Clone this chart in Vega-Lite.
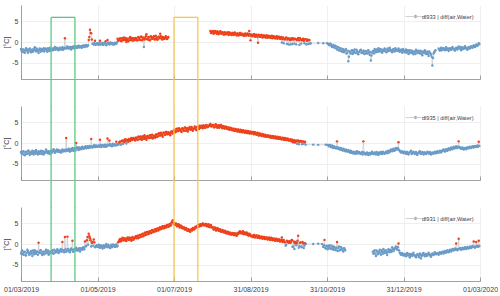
{
  "$schema": "https://vega.github.io/schema/vega-lite/v6.json",
  "padding": {"left": 2, "top": 5, "right": 0, "bottom": 2},
  "spacing": 27,
  "bounds": "flush",
  "datasets": {
    "boxes": [
      {"x0": "2019-03-25", "x1": "2019-04-13", "id": "g"},
      {"x0": "2019-07-01", "x1": "2019-07-20", "id": "y"}
    ],
    "obs": [
      {"t":"2019-03-01","a":-1.7,"b":-2.2,"c":-2.3},
      {"t":"2019-03-02","a":-2.4,"b":-2.7,"c":-1.6},
      {"t":"2019-03-03","a":-1.9,"b":-2.0,"c":-2.6},
      {"t":"2019-03-04","a":-2.6,"b":-3.0,"c":-1.9},
      {"t":"2019-03-05","a":-1.5,"b":-2.1,"c":-2.8},
      {"t":"2019-03-06","a":-2.2,"b":-2.6,"c":-1.4},
      {"t":"2019-03-07","a":-2.0,"b":-1.8,"c":-2.1},
      {"t":"2019-03-08","a":-1.6,"b":-2.9,"c":-2.5},
      {"t":"2019-03-09","a":-2.5,"b":-2.3,"c":-1.7},
      {"t":"2019-03-10","a":-1.8,"b":-1.9,"c":-2.9},
      {"t":"2019-03-11","a":-2.1,"b":-2.8,"c":-2.0},
      {"t":"2019-03-12","a":-1.3,"b":-2.2,"c":-1.5},
      {"t":"2019-03-13","a":-2.3,"b":-1.7,"c":-2.4},
      {"t":"2019-03-14","a":-1.9,"b":-2.5,"c":-1.8},
      {"t":"2019-03-15","a":-2.7,"b":-2.0,"c":0.3,"r":"c"},
      {"t":"2019-03-16","a":-1.6,"b":-2.6,"c":-2.2},
      {"t":"2019-03-17","a":-2.0,"b":-1.9,"c":-1.6},
      {"t":"2019-03-18","a":-2.2,"b":-2.4,"c":-2.7},
      {"t":"2019-03-19","a":-1.5,"b":-2.8,"c":-1.9},
      {"t":"2019-03-20","a":-1.9,"b":-2.1,"c":-2.3},
      {"t":"2019-03-21","a":-1.7,"b":-1.6,"c":-1.4},
      {"t":"2019-03-22","a":-2.4,"b":-2.3,"c":-2.0},
      {"t":"2019-03-23","a":-1.8,"b":-2.0,"c":-2.6},
      {"t":"2019-03-24","a":-1.4,"b":-2.7,"c":-1.8},
      {"t":"2019-03-25","a":-2.1,"b":-1.8,"c":-2.1},
      {"t":"2019-03-26","a":-1.6,"b":-2.2,"c":-1.5},
      {"t":"2019-03-27","a":-1.9,"b":-1.5,"c":-2.4},
      {"t":"2019-03-28","a":-1.2,"b":-2.4,"c":-1.7},
      {"t":"2019-03-29","a":-1.7,"b":-1.9,"c":-1.9},
      {"t":"2019-03-30","a":-1.5,"b":-2.1,"c":-1.3},
      {"t":"2019-03-31","a":-2.0,"b":-1.7,"c":-2.2},
      {"t":"2019-04-01","a":-1.4,"b":-1.9,"c":-1.8},
      {"t":"2019-04-02","a":-1.8,"b":-2.3,"c":-1.2},
      {"t":"2019-04-03","a":-1.3,"b":-1.6,"c":0.5,"r":"c"},
      {"t":"2019-04-04","a":-1.7,"b":-2.0,"c":-1.6},
      {"t":"2019-04-05","a":0.9,"b":-1.7,"c":1.7,"r":"ac"},
      {"t":"2019-04-06","a":-1.5,"b":1.2,"c":-1.9,"r":"b"},
      {"t":"2019-04-07","a":-1.1,"b":-1.8,"c":1.8,"r":"c"},
      {"t":"2019-04-08","a":-1.6,"b":-1.4,"c":-1.4},
      {"t":"2019-04-09","a":-1.2,"b":-2.1,"c":-2.0},
      {"t":"2019-04-10","a":-1.8,"b":-1.5,"c":-1.1},
      {"t":"2019-04-11","a":-1.3,"b":-1.2,"c":0.8,"r":"c"},
      {"t":"2019-04-12","a":-1.0,"b":-1.9,"c":-1.7},
      {"t":"2019-04-13","a":-1.5,"b":-1.3,"c":-1.3},
      {"t":"2019-04-14","a":-1.1,"b":0.0,"c":-0.9,"r":"b"},
      {"t":"2019-04-15","a":-1.4,"b":-1.0,"c":-1.6},
      {"t":"2019-04-16","a":-0.9,"b":-1.7,"c":-1.2},
      {"t":"2019-04-17","a":-1.3,"b":-1.2,"c":-1.8},
      {"t":"2019-04-18","a":-1.0,"b":-1.5,"c":-1.0},
      {"t":"2019-04-19","a":-1.2,"b":-0.9,"c":-1.4},
      {"t":"2019-04-20","a":-0.8,"b":-1.4,"c":-0.9},
      {"t":"2019-04-21","a":-1.1,"b":-1.0,"c":0.6,"r":"c"},
      {"t":"2019-04-22","a":-0.7,"b":-1.3,"c":-0.5},
      {"t":"2019-04-23","a":-1.0,"b":-0.8,"c":1.7,"r":"c"},
      {"t":"2019-04-24","a":0.5,"b":-1.2,"c":2.5,"r":"ac"},
      {"t":"2019-04-25","a":3.0,"b":-0.9,"c":1.4,"r":"ac"},
      {"t":"2019-04-26","a":2.1,"b":1.0,"c":-0.6,"r":"ab"},
      {"t":"2019-04-27","a":-0.4,"b":-1.1,"c":0.5,"r":"c"},
      {"t":"2019-04-28","a":-0.6,"b":-0.7,"c":1.1,"r":"c"},
      {"t":"2019-04-29","a":0.3,"b":-1.0,"c":-0.8,"r":"a"},
      {"t":"2019-04-30","a":-0.5,"b":-0.6,"c":-0.4},
      {"t":"2019-05-01","a":-0.3,"b":-0.9,"c":-0.7},
      {"t":"2019-05-02","a":-0.7,"b":-0.6,"c":-0.2},
      {"t":"2019-05-03","a":0.3,"b":0.8,"c":-0.9,"r":"ab"},
      {"t":"2019-05-04","a":-0.5,"b":-1.0,"c":-0.4},
      {"t":"2019-05-05","a":-0.2,"b":-0.5,"c":-1.1},
      {"t":"2019-05-06","a":-0.6,"b":-0.8,"c":-0.3},
      {"t":"2019-05-07","a":-0.3,"b":-0.4,"c":-0.6},
      {"t":"2019-05-08","a":-0.8,"b":-0.9,"c":0.0},
      {"t":"2019-05-09","a":0.5,"b":1.1,"c":-0.8,"r":"ab"},
      {"t":"2019-05-10","a":-0.4,"b":-0.6,"c":-0.5},
      {"t":"2019-05-11","a":-0.1,"b":-0.3,"c":-1.0},
      {"t":"2019-05-12","a":-0.5,"b":-0.7,"c":-0.2},
      {"t":"2019-05-13","a":-0.3,"b":-0.2,"c":-0.6},
      {"t":"2019-05-14","a":-0.6,"b":-0.6,"c":-0.3},
      {"t":"2019-05-15","a":-0.2,"b":-0.4,"c":-0.7},
      {"t":"2019-05-16","a":-0.4,"b":0.3,"c":-0.1,"r":"b"},
      {"t":"2019-05-17","a":0.8,"b":-0.5,"c":-0.5,"r":"a"},
      {"t":"2019-05-18","a":0.4,"b":-0.2,"c":0.6,"r":"ac"},
      {"t":"2019-05-19","a":0.9,"b":0.4,"c":1.2,"r":"abc"},
      {"t":"2019-05-20","a":0.2,"b":-0.3,"c":0.8,"r":"ac"},
      {"t":"2019-05-21","a":0.7,"b":0.6,"c":1.5,"r":"abc"},
      {"t":"2019-05-22","a":1.1,"b":0.2,"c":0.9,"r":"abc"},
      {"t":"2019-05-23","a":0.5,"b":0.9,"c":1.3,"r":"abc"},
      {"t":"2019-05-24","a":0.0,"b":-0.1,"c":0.7,"r":"ac"},
      {"t":"2019-05-25","a":0.8,"b":0.7,"c":1.6,"r":"abc"},
      {"t":"2019-05-26","a":0.4,"b":1.0,"c":1.0,"r":"abc"},
      {"t":"2019-05-27","a":1.2,"b":0.5,"c":1.4,"r":"abc"},
      {"t":"2019-05-28","a":0.6,"b":1.2,"c":0.8,"r":"abc"},
      {"t":"2019-05-29","a":0.3,"b":0.8,"c":1.7,"r":"abc"},
      {"t":"2019-05-30","a":0.9,"b":1.1,"c":1.2,"r":"abc"},
      {"t":"2019-05-31","a":0.6,"b":0.6,"c":1.5,"r":"abc"},
      {"t":"2019-06-01","a":0.8,"b":1.3,"c":1.4,"r":"abc"},
      {"t":"2019-06-02","a":0.4,"b":0.7,"c":2.0,"r":"abc"},
      {"t":"2019-06-03","a":1.0,"b":1.5,"c":1.6,"r":"abc"},
      {"t":"2019-06-04","a":0.5,"b":0.9,"c":2.2,"r":"abc"},
      {"t":"2019-06-05","a":1.3,"b":1.2,"c":1.8,"r":"abc"},
      {"t":"2019-06-06","a":0.7,"b":1.6,"c":2.5,"r":"abc"},
      {"t":"2019-06-07","a":-1.2,"b":1.0,"c":2.1,"r":"bc"},
      {"t":"2019-06-08","a":0.9,"b":1.4,"c":2.8,"r":"abc"},
      {"t":"2019-06-09","a":1.9,"b":0.8,"c":2.3,"r":"abc"},
      {"t":"2019-06-10","a":0.6,"b":1.7,"c":2.9,"r":"abc"},
      {"t":"2019-06-11","a":1.1,"b":1.2,"c":2.6,"r":"abc"},
      {"t":"2019-06-12","a":0.5,"b":1.9,"c":3.1,"r":"abc"},
      {"t":"2019-06-13","a":1.2,"b":1.4,"c":2.7,"r":"abc"},
      {"t":"2019-06-14","a":0.8,"b":1.1,"c":3.3,"r":"abc"},
      {"t":"2019-06-15","a":1.4,"b":1.8,"c":3.0,"r":"abc"},
      {"t":"2019-06-16","a":0.7,"b":1.3,"c":3.6,"r":"abc"},
      {"t":"2019-06-17","a":1.0,"b":2.1,"c":3.2,"r":"abc"},
      {"t":"2019-06-18","a":0.6,"b":1.6,"c":3.8,"r":"abc"},
      {"t":"2019-06-19","a":1.3,"b":2.4,"c":3.5,"r":"abc"},
      {"t":"2019-06-20","a":2.0,"b":1.8,"c":4.0,"r":"abc"},
      {"t":"2019-06-21","a":0.9,"b":2.2,"c":3.7,"r":"abc"},
      {"t":"2019-06-22","a":1.2,"b":1.5,"c":4.3,"r":"abc"},
      {"t":"2019-06-23","a":0.7,"b":2.5,"c":3.9,"r":"abc"},
      {"t":"2019-06-24","a":1.1,"b":2.0,"c":4.4,"r":"abc"},
      {"t":"2019-06-25","a":0.8,"b":2.7,"c":4.1,"r":"abc"},
      {"t":"2019-06-26","a":1.0,"b":2.1,"c":4.6,"r":"abc"},
      {"t":"2019-06-27","a":null,"b":2.4,"c":4.3,"r":"bc","gap":"a"},
      {"t":"2019-06-28","b":1.9,"c":4.8,"r":"bc"},
      {"t":"2019-06-29","b":2.8,"c":5.2,"r":"bc"},
      {"t":"2019-06-30","b":2.3,"c":5.8,"r":"bc"},
      {"t":"2019-07-01","b":3.0,"c":5.1,"r":"bc"},
      {"t":"2019-07-02","b":2.6,"c":4.7,"r":"bc"},
      {"t":"2019-07-03","b":3.4,"c":4.9,"r":"bc"},
      {"t":"2019-07-04","b":2.9,"c":4.4,"r":"bc"},
      {"t":"2019-07-05","b":3.6,"c":4.6,"r":"bc"},
      {"t":"2019-07-06","b":3.1,"c":4.1,"r":"bc"},
      {"t":"2019-07-07","b":2.7,"c":4.3,"r":"bc"},
      {"t":"2019-07-08","b":3.5,"c":3.8,"r":"bc"},
      {"t":"2019-07-09","b":3.0,"c":4.0,"r":"bc"},
      {"t":"2019-07-10","b":3.8,"c":3.5,"r":"bc"},
      {"t":"2019-07-11","b":3.2,"c":3.7,"r":"bc"},
      {"t":"2019-07-12","b":2.8,"c":3.2,"r":"bc"},
      {"t":"2019-07-13","b":3.6,"c":3.4,"r":"bc"},
      {"t":"2019-07-14","b":3.3,"c":3.0,"r":"bc"},
      {"t":"2019-07-15","b":3.9,"c":3.6,"r":"bc"},
      {"t":"2019-07-16","b":3.0,"c":3.9,"r":"bc"},
      {"t":"2019-07-17","b":3.5,"c":3.5,"r":"bc"},
      {"t":"2019-07-18","b":3.7,"c":4.2,"r":"bc"},
      {"t":"2019-07-19","b":3.1,"c":4.0,"r":"bc"},
      {"t":"2019-07-20","b":4.0,"c":4.6,"r":"bc"},
      {"t":"2019-07-21","b":3.4,"c":4.3,"r":"bc"},
      {"t":"2019-07-22","b":3.8,"c":4.8,"r":"bc"},
      {"t":"2019-07-23","b":4.2,"c":4.5,"r":"bc"},
      {"t":"2019-07-24","b":3.6,"c":5.0,"r":"bc"},
      {"t":"2019-07-25","b":4.1,"c":4.6,"r":"bc"},
      {"t":"2019-07-26","b":3.7,"c":4.9,"r":"bc"},
      {"t":"2019-07-27","b":4.4,"c":4.4,"r":"bc"},
      {"t":"2019-07-28","b":3.9,"c":4.7,"r":"bc"},
      {"t":"2019-07-29","b":4.2,"c":4.2,"r":"bc"},
      {"t":"2019-07-30","a":2.7,"b":4.6,"c":4.5,"r":"abc"},
      {"t":"2019-07-31","a":2.3,"b":4.0,"c":4.0,"r":"abc"},
      {"t":"2019-08-01","a":2.6,"b":4.3,"c":4.1,"r":"abc"},
      {"t":"2019-08-02","a":2.2,"b":3.8,"c":3.6,"r":"abc"},
      {"t":"2019-08-03","a":2.5,"b":4.5,"c":3.9,"r":"abc"},
      {"t":"2019-08-04","a":2.0,"b":4.0,"c":3.4,"r":"abc"},
      {"t":"2019-08-05","a":2.4,"b":4.2,"c":3.7,"r":"abc"},
      {"t":"2019-08-06","a":2.1,"b":3.7,"c":3.2,"r":"abc"},
      {"t":"2019-08-07","a":2.6,"b":4.4,"c":3.5,"r":"abc"},
      {"t":"2019-08-08","a":2.0,"b":3.9,"c":3.0,"r":"abc"},
      {"t":"2019-08-09","a":2.3,"b":4.1,"c":3.3,"r":"abc"},
      {"t":"2019-08-10","a":1.8,"b":3.6,"c":2.8,"r":"abc"},
      {"t":"2019-08-11","a":2.2,"b":4.0,"c":3.1,"r":"abc"},
      {"t":"2019-08-12","a":2.0,"b":3.5,"c":2.6,"r":"abc"},
      {"t":"2019-08-13","a":2.4,"b":3.8,"c":2.9,"r":"abc"},
      {"t":"2019-08-14","a":1.9,"b":3.3,"c":2.4,"r":"abc"},
      {"t":"2019-08-15","a":2.1,"b":3.7,"c":2.7,"r":"abc"},
      {"t":"2019-08-16","a":1.7,"b":3.2,"c":2.3,"r":"abc"},
      {"t":"2019-08-17","a":2.2,"b":3.5,"c":2.6,"r":"abc"},
      {"t":"2019-08-18","a":1.9,"b":3.0,"c":2.2,"r":"abc"},
      {"t":"2019-08-19","a":2.1,"b":3.4,"c":2.5,"r":"abc"},
      {"t":"2019-08-20","a":1.6,"b":2.9,"c":2.0,"r":"abc"},
      {"t":"2019-08-21","a":2.0,"b":3.3,"c":2.4,"r":"abc"},
      {"t":"2019-08-22","a":1.8,"b":2.8,"c":2.7,"r":"abc"},
      {"t":"2019-08-23","a":2.2,"b":3.2,"c":3.0,"r":"abc"},
      {"t":"2019-08-24","a":1.7,"b":2.7,"c":2.6,"r":"abc"},
      {"t":"2019-08-25","a":1.9,"b":3.1,"c":3.1,"r":"abc"},
      {"t":"2019-08-26","a":1.5,"b":2.6,"c":2.7,"r":"abc"},
      {"t":"2019-08-27","a":2.0,"b":3.0,"c":2.4,"r":"abc"},
      {"t":"2019-08-28","a":1.7,"b":2.5,"c":2.8,"r":"abc"},
      {"t":"2019-08-29","a":1.9,"b":2.9,"c":2.2,"r":"abc"},
      {"t":"2019-08-30","a":2.7,"b":2.4,"c":2.5,"r":"abc"},
      {"t":"2019-08-31","a":0.4,"b":2.8,"c":2.1,"r":"abc"},
      {"t":"2019-09-01","a":1.8,"b":2.3,"c":2.0,"r":"abc"},
      {"t":"2019-09-02","a":1.5,"b":2.7,"c":1.7,"r":"abc"},
      {"t":"2019-09-03","a":1.9,"b":2.1,"c":2.2,"r":"abc"},
      {"t":"2019-09-04","a":1.4,"b":2.5,"c":1.8,"r":"abc"},
      {"t":"2019-09-05","a":1.7,"b":2.0,"c":2.1,"r":"abc"},
      {"t":"2019-09-06","a":-0.2,"b":2.4,"c":1.6,"r":"abc"},
      {"t":"2019-09-07","a":1.6,"b":1.9,"c":1.9,"r":"abc"},
      {"t":"2019-09-08","a":1.3,"b":2.2,"c":1.5,"r":"abc"},
      {"t":"2019-09-09","a":1.7,"b":1.7,"c":1.8,"r":"abc"},
      {"t":"2019-09-10","a":1.2,"b":2.1,"c":1.4,"r":"abc"},
      {"t":"2019-09-11","a":1.5,"b":1.6,"c":1.7,"r":"abc"},
      {"t":"2019-09-12","a":1.1,"b":1.9,"c":1.3,"r":"abc"},
      {"t":"2019-09-13","a":1.6,"b":1.5,"c":1.6,"r":"abc"},
      {"t":"2019-09-14","a":1.2,"b":1.8,"c":1.2,"r":"abc"},
      {"t":"2019-09-15","a":1.4,"b":1.4,"c":1.5,"r":"abc"},
      {"t":"2019-09-16","a":1.0,"b":1.7,"c":1.1,"r":"abc"},
      {"t":"2019-09-17","a":1.5,"b":1.3,"c":1.4,"r":"abc"},
      {"t":"2019-09-18","a":1.1,"b":1.6,"c":1.0,"r":"abc"},
      {"t":"2019-09-19","a":1.3,"b":1.2,"c":1.3,"r":"abc"},
      {"t":"2019-09-20","a":0.9,"b":1.5,"c":0.9,"r":"abc"},
      {"t":"2019-09-21","a":1.4,"b":1.1,"c":1.2,"r":"abc"},
      {"t":"2019-09-22","a":1.0,"b":1.4,"c":0.8,"r":"abc"},
      {"t":"2019-09-23","a":1.2,"b":1.0,"c":1.1,"r":"abc"},
      {"t":"2019-09-24","a":0.8,"b":1.3,"c":0.7,"r":"abc"},
      {"t":"2019-09-25","a":-0.1,"b":0.9,"c":1.6,"r":"bc"},
      {"t":"2019-09-26","a":1.1,"b":1.2,"c":0.9,"r":"abc"},
      {"t":"2019-09-27","a":0.7,"b":0.8,"c":0.5,"r":"abc"},
      {"t":"2019-09-28","a":1.0,"b":1.1,"c":-0.4,"r":"ab"},
      {"t":"2019-09-29","a":-0.5,"b":0.7,"c":0.8,"r":"bc"},
      {"t":"2019-09-30","a":0.9,"b":1.0,"c":0.4,"r":"abc"},
      {"t":"2019-10-01","a":0.8,"b":0.6,"c":0.7,"r":"abc"},
      {"t":"2019-10-02","a":-0.6,"b":0.9,"c":0.3,"r":"bc"},
      {"t":"2019-10-03","a":0.6,"b":0.5,"c":1.0,"r":"abc"},
      {"t":"2019-10-04","a":0.9,"b":0.2,"c":-0.6,"r":"ab"},
      {"t":"2019-10-05","a":-0.4,"b":0.7,"c":-1.2,"r":"b"},
      {"t":"2019-10-06","a":0.7,"b":0.4,"c":0.5,"r":"abc"},
      {"t":"2019-10-07","a":0.5,"b":-0.2,"c":0.2,"r":"ac"},
      {"t":"2019-10-08","a":1.0,"b":0.6,"c":2.0,"r":"abc"},
      {"t":"2019-10-09","a":-0.7,"b":0.3,"c":-0.5,"r":"b"},
      {"t":"2019-10-10","a":0.6,"b":0.5,"c":0.4,"r":"abc"},
      {"t":"2019-10-11","a":0.4,"b":-0.3,"c":-0.8,"r":"a"},
      {"t":"2019-10-12","a":0.8,"b":0.4,"c":0.1,"r":"abc"},
      {"t":"2019-10-13","a":-0.3,"b":0.2,"c":-0.4,"r":"b"},
      {"t":"2019-10-14","a":0.7,"b":-0.4,"c":0.0,"r":"a"},
      {"t":"2019-10-15","a":0.3,"r":"a"},
      {"t":"2019-10-16","a":-0.5},
      {"t":"2019-10-17","a":0.5,"r":"a"},
      {"t":"2019-10-18","a":-0.3},
      {"t":"2019-10-20","b":-0.4,"c":0.0},
      {"t":"2019-10-24","a":-0.25,"b":-0.45,"c":0.05},
      {"t":"2019-10-27","c":0.0},
      {"t":"2019-10-28","a":-0.3,"c":-0.7},
      {"t":"2019-10-29","c":1.0,"r":"c"},
      {"t":"2019-10-30","b":-0.4,"c":-1.1},
      {"t":"2019-10-31","a":-0.3,"b":-0.45,"c":-0.5},
      {"t":"2019-11-01","a":-0.4,"b":-0.5,"c":-0.9},
      {"t":"2019-11-02","a":-0.8,"b":-0.7,"c":-0.3},
      {"t":"2019-11-03","a":-0.5,"b":-1.0,"c":-1.2},
      {"t":"2019-11-04","a":-1.2,"b":-0.6,"c":-0.6},
      {"t":"2019-11-05","a":-0.7,"b":-1.2,"c":-1.4},
      {"t":"2019-11-06","a":-1.4,"b":-0.9,"c":-0.8},
      {"t":"2019-11-07","a":-1.0,"b":-1.3,"c":-1.5},
      {"t":"2019-11-08","a":-1.8,"b":0.4,"c":0.5,"r":"bc"},
      {"t":"2019-11-09","a":-1.3,"b":-1.1,"c":-1.0},
      {"t":"2019-11-10","a":-2.1,"b":-1.5,"c":-1.6},
      {"t":"2019-11-11","a":-1.6,"b":-1.2,"c":-0.7},
      {"t":"2019-11-12","a":-2.4,"b":-1.7,"c":-1.3},
      {"t":"2019-11-13","a":-1.9,"b":-1.4,"c":-1.8},
      {"t":"2019-11-14","a":-2.2,"b":-1.9,"c":-1.1},
      {"t":"2019-11-15","a":-1.7,"b":-1.6,"c":null,"gap":"c"},
      {"t":"2019-11-16","a":-2.6,"b":-2.0},
      {"t":"2019-11-17","a":-4.7,"b":-1.7},
      {"t":"2019-11-18","a":-2.3,"b":-2.2},
      {"t":"2019-11-19","a":-2.8,"b":-1.9},
      {"t":"2019-11-20","a":-2.0,"b":-2.4},
      {"t":"2019-11-21","a":-2.5,"b":-2.1},
      {"t":"2019-11-22","a":-1.8,"b":-2.6},
      {"t":"2019-11-23","a":-2.7,"b":-2.2},
      {"t":"2019-11-24","a":-2.2,"b":-2.0},
      {"t":"2019-11-25","a":-3.0,"b":-2.5},
      {"t":"2019-11-26","a":-2.4,"b":-2.3},
      {"t":"2019-11-27","a":-1.9,"b":-2.7},
      {"t":"2019-11-28","a":-2.6,"b":-2.2},
      {"t":"2019-11-29","a":-2.1,"b":0.4,"r":"b"},
      {"t":"2019-11-30","a":-2.9,"b":-2.5},
      {"t":"2019-12-01","a":-2.3,"b":-2.8},
      {"t":"2019-12-02","a":-2.8,"b":-2.3},
      {"t":"2019-12-03","a":-2.0,"b":-2.9},
      {"t":"2019-12-04","a":-3.1,"b":-2.4},
      {"t":"2019-12-05","a":-4.5,"b":-2.6},
      {"t":"2019-12-06","a":-2.6,"b":-2.1},
      {"t":"2019-12-07","a":-2.2,"b":-2.7,"c":-2.4},
      {"t":"2019-12-08","a":-1.7,"b":-2.3,"c":-1.5},
      {"t":"2019-12-09","a":-2.5,"b":-2.8,"c":-2.9},
      {"t":"2019-12-10","a":-2.0,"b":-2.4,"c":-1.8},
      {"t":"2019-12-11","a":-1.5,"b":-2.9,"c":-2.3},
      {"t":"2019-12-12","a":-2.3,"b":-2.5,"c":-1.4},
      {"t":"2019-12-13","a":-1.8,"b":-2.2,"c":-2.6},
      {"t":"2019-12-14","a":-2.6,"b":-2.7,"c":-1.9},
      {"t":"2019-12-15","a":-2.1,"b":-2.3,"c":-1.2},
      {"t":"2019-12-16","a":-1.6,"b":-2.6,"c":-2.2},
      {"t":"2019-12-17","a":-2.4,"b":-2.1,"c":-1.6},
      {"t":"2019-12-18","a":-1.9,"b":-2.5,"c":-2.7},
      {"t":"2019-12-19","a":-2.2,"b":-1.9,"c":-1.3},
      {"t":"2019-12-20","a":-1.4,"b":-2.2,"c":-2.0},
      {"t":"2019-12-21","a":-2.0,"b":-1.6,"c":-1.5},
      {"t":"2019-12-22","a":-2.5,"b":-2.0,"c":-0.8},
      {"t":"2019-12-23","a":-1.7,"b":-1.4,"c":-1.7},
      {"t":"2019-12-24","a":-2.3,"b":-1.8,"c":-1.1},
      {"t":"2019-12-25","a":-1.8,"b":-1.2,"c":-0.6},
      {"t":"2019-12-26","a":-2.1,"b":-1.5,"c":-1.4},
      {"t":"2019-12-27","a":-1.6,"b":0.2,"c":0.1,"r":"bc"},
      {"t":"2019-12-28","a":-2.4,"b":-1.9,"c":-2.1},
      {"t":"2019-12-29","a":-1.9,"b":-2.3,"c":-2.6},
      {"t":"2019-12-30","a":-2.6,"b":-2.0,"c":-2.3},
      {"t":"2019-12-31","a":-2.0,"b":-2.5,"c":-2.8},
      {"t":"2020-01-01","a":-2.5,"b":-2.1,"c":-2.5},
      {"t":"2020-01-02","a":-1.8,"b":-2.6,"c":-3.0},
      {"t":"2020-01-03","a":-2.3,"b":-2.2,"c":-2.2},
      {"t":"2020-01-04","a":-2.9,"b":-2.8,"c":-2.8},
      {"t":"2020-01-05","a":-2.0,"b":-2.3,"c":-3.3},
      {"t":"2020-01-06","a":-2.6,"b":-1.9,"c":-2.4},
      {"t":"2020-01-07","a":-2.2,"b":-2.5,"c":-2.9},
      {"t":"2020-01-08","a":-3.0,"b":-2.1,"c":-2.1},
      {"t":"2020-01-09","a":-2.4,"b":-2.7,"c":-2.7},
      {"t":"2020-01-10","a":-1.9,"b":-2.2,"c":-3.2},
      {"t":"2020-01-11","a":-2.7,"b":-2.9,"c":-2.5},
      {"t":"2020-01-12","a":-2.1,"b":-2.4,"c":-2.9},
      {"t":"2020-01-13","a":-2.8,"b":-2.0,"c":-2.3},
      {"t":"2020-01-14","a":-2.3,"b":-2.6,"c":-3.5},
      {"t":"2020-01-15","a":-3.2,"b":-2.2,"c":-2.6},
      {"t":"2020-01-16","a":-2.5,"b":-2.8,"c":-2.2},
      {"t":"2020-01-17","a":-2.0,"b":-2.3,"c":-3.0},
      {"t":"2020-01-18","a":-2.9,"b":-2.7,"c":-2.4},
      {"t":"2020-01-19","a":-2.3,"b":-2.1,"c":-2.8},
      {"t":"2020-01-20","a":-3.4,"b":-2.5,"c":-2.1},
      {"t":"2020-01-21","a":-2.6,"b":-2.2,"c":-2.6},
      {"t":"2020-01-22","a":-3.1,"b":-2.8,"c":-3.1},
      {"t":"2020-01-23","a":-5.7,"b":-2.3,"c":-2.3},
      {"t":"2020-01-24","a":-2.8,"b":-2.6,"c":-2.7},
      {"t":"2020-01-25","a":-2.2,"b":-2.1,"c":-2.0},
      {"t":"2020-01-26","a":null,"b":-2.5,"c":-2.5,"gap":"a"},
      {"t":"2020-01-27","b":-2.0,"c":-2.2},
      {"t":"2020-01-28","a":-1.6,"b":-2.4,"c":-2.6},
      {"t":"2020-01-29","a":-2.1,"b":-1.9,"c":-2.0},
      {"t":"2020-01-30","a":-1.4,"b":-2.3,"c":-2.4},
      {"t":"2020-01-31","a":-1.9,"b":-1.8,"c":-1.9},
      {"t":"2020-02-01","a":-1.5,"b":-1.6,"c":-2.3},
      {"t":"2020-02-02","a":-2.0,"b":-2.1,"c":-1.7},
      {"t":"2020-02-03","a":-1.3,"b":-1.5,"c":-2.1},
      {"t":"2020-02-04","a":-1.8,"b":-1.9,"c":-1.5},
      {"t":"2020-02-05","a":-2.2,"b":-1.3,"c":-2.0},
      {"t":"2020-02-06","a":-1.5,"b":-1.7,"c":-1.4},
      {"t":"2020-02-07","a":-1.9,"b":-1.1,"c":-1.8},
      {"t":"2020-02-08","a":-1.2,"b":-1.5,"c":-1.2},
      {"t":"2020-02-09","a":-1.7,"b":-0.9,"c":-1.6},
      {"t":"2020-02-10","a":-2.1,"b":-1.3,"c":-1.1},
      {"t":"2020-02-11","a":-1.4,"b":-0.8,"c":0.1,"r":"c"},
      {"t":"2020-02-12","a":-1.8,"b":-1.2,"c":-1.5},
      {"t":"2020-02-13","a":-1.1,"b":0.4,"c":1.3,"r":"bc"},
      {"t":"2020-02-14","a":-1.6,"b":-1.0,"c":-1.0},
      {"t":"2020-02-15","a":-2.0,"b":-1.4,"c":-1.4},
      {"t":"2020-02-16","a":-1.3,"b":-1.1,"c":-0.9},
      {"t":"2020-02-17","a":-1.7,"b":-1.6,"c":-1.3},
      {"t":"2020-02-18","a":-1.0,"b":-1.2,"c":-0.8},
      {"t":"2020-02-19","a":-1.5,"b":-1.5,"c":-1.2},
      {"t":"2020-02-20","a":-1.9,"b":-1.0,"c":-0.7},
      {"t":"2020-02-21","a":-1.2,"b":-1.3,"c":-1.1},
      {"t":"2020-02-22","a":-1.6,"b":-0.9,"c":-0.6},
      {"t":"2020-02-23","a":-1.0,"b":-1.2,"c":-1.0},
      {"t":"2020-02-24","a":-1.4,"b":-0.8,"c":-0.5},
      {"t":"2020-02-25","a":-0.8,"b":-1.1,"c":0.6,"r":"c"},
      {"t":"2020-02-26","a":-1.2,"b":-0.7,"c":-0.9},
      {"t":"2020-02-27","a":-0.6,"b":-1.0,"c":0.5,"r":"c"},
      {"t":"2020-02-28","a":-0.9,"b":-0.6,"c":-0.4},
      {"t":"2020-02-29","a":-0.3,"b":0.3,"c":0.8,"r":"bc"},

      {"t":"2019-03-01T12:00Z","a":-2.2,"b":-2.5,"c":-1.8},
      {"t":"2019-03-02T12:00Z","a":-1.8,"b":-2.1,"c":-2.4},
      {"t":"2019-03-03T12:00Z","a":-2.5,"b":-2.8,"c":-2.0},
      {"t":"2019-03-04T12:00Z","a":-2.0,"b":-2.3,"c":-2.7},
      {"t":"2019-03-05T12:00Z","a":-1.7,"b":-2.7,"c":-2.2},
      {"t":"2019-03-06T12:00Z","a":-2.6,"b":-2.0,"c":-1.7},
      {"t":"2019-03-07T12:00Z","a":-1.8,"b":-2.5,"c":-2.6},
      {"t":"2019-03-08T12:00Z","a":-2.3,"b":-2.2,"c":-2.0},
      {"t":"2019-03-09T12:00Z","a":-2.0,"b":-2.6,"c":-2.3},
      {"t":"2019-03-10T12:00Z","a":-2.4,"b":-2.4,"c":-1.6},
      {"t":"2019-03-11T12:00Z","a":-1.7,"b":-2.0,"c":-2.5},
      {"t":"2019-03-12T12:00Z","a":-2.0,"b":-2.6,"c":-2.0},
      {"t":"2019-03-13T12:00Z","a":-1.6,"b":-2.2,"c":-1.9},
      {"t":"2019-03-14T12:00Z","a":-2.2,"b":-2.8,"c":-2.6},
      {"t":"2019-03-15T12:00Z","a":-1.9,"b":-2.3,"c":-2.0},
      {"t":"2019-03-16T12:00Z","a":-2.4,"b":-2.1,"c":-1.5},
      {"t":"2019-03-17T12:00Z","a":-1.7,"b":-2.7,"c":-2.3},
      {"t":"2019-03-18T12:00Z","a":-1.9,"b":-2.0,"c":-2.0},
      {"t":"2019-03-19T12:00Z","a":-2.3,"b":-2.5,"c":-2.5},
      {"t":"2019-03-20T12:00Z","a":-1.6,"b":-2.3,"c":-1.7},
      {"t":"2019-03-21T12:00Z","a":-2.1,"b":-2.0,"c":-2.2},
      {"t":"2019-03-22T12:00Z","a":-1.5,"b":-2.5,"c":-1.6},
      {"t":"2019-03-23T12:00Z","a":-2.2,"b":-2.3,"c":-2.3},
      {"t":"2019-03-24T12:00Z","a":-1.8,"b":-2.0,"c":-2.0},
      {"t":"2019-03-25T12:00Z","a":-1.7,"b":-2.4,"c":-1.9},
      {"t":"2019-03-26T12:00Z","a":-2.0,"b":-1.9,"c":-2.2},
      {"t":"2019-03-27T12:00Z","a":-1.5,"b":-2.0,"c":-1.4},
      {"t":"2019-03-28T12:00Z","a":-1.9,"b":-2.2,"c":-2.1},
      {"t":"2019-03-29T12:00Z","a":-1.4,"b":-1.6,"c":-1.6},
      {"t":"2019-03-30T12:00Z","a":-1.8,"b":-2.0,"c":-2.0},
      {"t":"2019-03-31T12:00Z","a":-1.6,"b":-2.2,"c":-1.6},
      {"t":"2019-04-01T12:00Z","a":-1.7,"b":-2.2,"c":-1.4},
      {"t":"2019-04-02T12:00Z","a":-1.5,"b":-1.8,"c":-1.9},
      {"t":"2019-04-03T12:00Z","a":-1.9,"b":-2.0,"c":-1.5},
      {"t":"2019-04-04T12:00Z","a":-1.4,"b":-1.7,"c":-2.0},
      {"t":"2019-04-05T12:00Z","a":-1.6,"b":-2.0,"c":-1.3},
      {"t":"2019-04-06T12:00Z","a":-1.2,"b":-1.6,"c":-1.7},
      {"t":"2019-04-07T12:00Z","a":-1.5,"b":-1.9,"c":-1.2},
      {"t":"2019-04-08T12:00Z","a":-1.3,"b":-1.7,"c":-1.8},
      {"t":"2019-04-09T12:00Z","a":-1.6,"b":-1.5,"c":-1.5},
      {"t":"2019-04-10T12:00Z","a":-1.2,"b":-1.9,"c":-1.4},
      {"t":"2019-04-11T12:00Z","a":-1.5,"b":-1.4,"c":-1.9},
      {"t":"2019-04-12T12:00Z","a":-1.3,"b":-1.6,"c":-1.3},
      {"t":"2019-04-13T12:00Z","a":-1.1,"b":-1.8,"c":-1.6},
      {"t":"2019-04-14T12:00Z","a":-1.4,"b":-1.3,"c":-1.2},
      {"t":"2019-04-15T12:00Z","a":-1.0,"b":-1.5,"c":-1.5},
      {"t":"2019-04-16T12:00Z","a":-1.3,"b":-1.1,"c":-1.0},
      {"t":"2019-04-17T12:00Z","a":-1.1,"b":-1.4,"c":-1.4},
      {"t":"2019-04-18T12:00Z","a":-1.4,"b":-1.0,"c":-1.1},
      {"t":"2019-04-19T12:00Z","a":-0.9,"b":-1.3,"c":-0.8},
      {"t":"2019-04-20T12:00Z","a":-1.2,"b":-1.1,"c":-1.3},
      {"t":"2019-04-21T12:00Z","a":-0.9,"b":-0.8,"c":-0.6},
      {"t":"2019-04-22T12:00Z","a":-1.1,"b":-1.2,"c":0.9,"r":"c"},
      {"t":"2019-04-23T12:00Z","a":-0.8,"b":-1.0,"c":-0.2},
      {"t":"2019-04-24T12:00Z","a":1.2,"b":-0.7,"c":1.9,"r":"ac"},
      {"t":"2019-04-25T12:00Z","a":2.2,"b":-1.1,"c":0.9,"r":"ac"},
      {"t":"2019-04-26T12:00Z","a":0.6,"b":-0.8,"c":0.3,"r":"ac"},
      {"t":"2019-04-27T12:00Z","a":-0.5,"b":-0.9,"c":-0.4},
      {"t":"2019-04-28T12:00Z","a":-0.3,"b":-0.5,"c":0.4,"r":"c"},
      {"t":"2019-04-29T12:00Z","a":-0.7,"b":-0.8,"c":-0.7},
      {"t":"2019-04-30T12:00Z","a":-0.4,"b":-0.9,"c":-0.3},
      {"t":"2019-05-01T12:00Z","a":-0.5,"b":-0.7,"c":-0.4},
      {"t":"2019-05-02T12:00Z","a":-0.2,"b":-0.9,"c":-0.8},
      {"t":"2019-05-03T12:00Z","a":-0.6,"b":-0.5,"c":-0.3},
      {"t":"2019-05-04T12:00Z","a":-0.4,"b":-0.8,"c":-0.7},
      {"t":"2019-05-05T12:00Z","a":-0.7,"b":-0.6,"c":-0.5},
      {"t":"2019-05-06T12:00Z","a":-0.3,"b":-0.9,"c":-0.9},
      {"t":"2019-05-07T12:00Z","a":0.2,"b":-0.5,"c":-0.4,"r":"a"},
      {"t":"2019-05-08T12:00Z","a":-0.5,"b":-0.7,"c":-0.6},
      {"t":"2019-05-09T12:00Z","a":-0.2,"b":-0.4,"c":-0.2},
      {"t":"2019-05-10T12:00Z","a":-0.6,"b":0.6,"c":-0.7,"r":"b"},
      {"t":"2019-05-11T12:00Z","a":-0.4,"b":-0.5,"c":-0.4},
      {"t":"2019-05-12T12:00Z","a":-0.2,"b":-0.8,"c":-0.8},
      {"t":"2019-05-13T12:00Z","a":-0.6,"b":-0.4,"c":-0.1},
      {"t":"2019-05-14T12:00Z","a":-0.3,"b":-0.3,"c":-0.5},
      {"t":"2019-05-15T12:00Z","a":-0.5,"b":-0.6,"c":-0.2},
      {"t":"2019-05-16T12:00Z","a":-0.1,"b":-0.3,"c":-0.6},
      {"t":"2019-05-17T12:00Z","a":0.3,"b":-0.4,"c":0.4,"r":"ac"},
      {"t":"2019-05-18T12:00Z","a":0.7,"b":0.2,"c":1.0,"r":"abc"},
      {"t":"2019-05-19T12:00Z","a":0.3,"b":-0.4,"c":0.6,"r":"ac"},
      {"t":"2019-05-20T12:00Z","a":0.9,"b":0.5,"c":1.3,"r":"abc"},
      {"t":"2019-05-21T12:00Z","a":0.4,"b":-0.2,"c":0.9,"r":"ac"},
      {"t":"2019-05-22T12:00Z","a":0.6,"b":0.7,"c":1.4,"r":"abc"},
      {"t":"2019-05-23T12:00Z","a":1.0,"b":0.4,"c":0.8,"r":"abc"},
      {"t":"2019-05-24T12:00Z","a":0.5,"b":0.8,"c":1.3,"r":"abc"},
      {"t":"2019-05-25T12:00Z","a":0.2,"b":0.3,"c":1.1,"r":"abc"},
      {"t":"2019-05-26T12:00Z","a":0.9,"b":0.8,"c":1.6,"r":"abc"},
      {"t":"2019-05-27T12:00Z","a":0.5,"b":1.0,"c":1.1,"r":"abc"},
      {"t":"2019-05-28T12:00Z","a":1.0,"b":0.7,"c":1.5,"r":"abc"},
      {"t":"2019-05-29T12:00Z","a":0.7,"b":1.2,"c":1.0,"r":"abc"},
      {"t":"2019-05-30T12:00Z","a":0.4,"b":0.9,"c":1.5,"r":"abc"},
      {"t":"2019-05-31T12:00Z","a":1.0,"b":1.3,"c":1.9,"r":"abc"},
      {"t":"2019-06-01T12:00Z","a":0.4,"b":0.9,"c":1.9,"r":"abc"},
      {"t":"2019-06-02T12:00Z","a":1.2,"b":1.5,"c":1.4,"r":"abc"},
      {"t":"2019-06-03T12:00Z","a":0.6,"b":1.0,"c":2.2,"r":"abc"},
      {"t":"2019-06-04T12:00Z","a":1.3,"b":1.6,"c":1.7,"r":"abc"},
      {"t":"2019-06-05T12:00Z","a":0.4,"b":0.8,"c":2.4,"r":"abc"},
      {"t":"2019-06-06T12:00Z","a":1.1,"b":1.5,"c":1.9,"r":"abc"},
      {"t":"2019-06-07T12:00Z","a":0.6,"b":1.9,"c":2.6,"r":"abc"},
      {"t":"2019-06-08T12:00Z","a":1.4,"b":1.1,"c":2.2,"r":"abc"},
      {"t":"2019-06-09T12:00Z","a":0.7,"b":1.6,"c":2.9,"r":"abc"},
      {"t":"2019-06-10T12:00Z","a":1.2,"b":1.2,"c":2.4,"r":"abc"},
      {"t":"2019-06-11T12:00Z","a":0.4,"b":1.8,"c":3.1,"r":"abc"},
      {"t":"2019-06-12T12:00Z","a":1.4,"b":1.3,"c":2.7,"r":"abc"},
      {"t":"2019-06-13T12:00Z","a":0.8,"b":2.0,"c":3.4,"r":"abc"},
      {"t":"2019-06-14T12:00Z","a":1.2,"b":1.4,"c":2.9,"r":"abc"},
      {"t":"2019-06-15T12:00Z","a":0.6,"b":1.6,"c":3.5,"r":"abc"},
      {"t":"2019-06-16T12:00Z","a":1.5,"b":2.0,"c":3.1,"r":"abc"},
      {"t":"2019-06-17T12:00Z","a":0.6,"b":1.5,"c":3.7,"r":"abc"},
      {"t":"2019-06-18T12:00Z","a":1.2,"b":2.2,"c":3.3,"r":"abc"},
      {"t":"2019-06-19T12:00Z","a":0.9,"b":1.8,"c":4.0,"r":"abc"},
      {"t":"2019-06-20T12:00Z","a":1.4,"b":2.5,"c":3.6,"r":"abc"},
      {"t":"2019-06-21T12:00Z","a":0.6,"b":1.9,"c":4.2,"r":"abc"},
      {"t":"2019-06-22T12:00Z","a":1.1,"b":2.5,"c":3.8,"r":"abc"},
      {"t":"2019-06-23T12:00Z","a":0.9,"b":2.0,"c":4.4,"r":"abc"},
      {"t":"2019-06-24T12:00Z","a":1.4,"b":2.7,"c":4.0,"r":"abc"},
      {"t":"2019-06-25T12:00Z","a":0.7,"b":2.2,"c":4.6,"r":"abc"},
      {"t":"2019-06-26T12:00Z","a":1.2,"b":2.6,"c":4.2,"r":"abc"},
      {"t":"2019-06-27T12:00Z","b":2.2,"c":4.9,"r":"bc"},
      {"t":"2019-06-28T12:00Z","b":2.7,"c":4.5,"r":"bc"},
      {"t":"2019-06-29T12:00Z","b":2.4,"c":5.4,"r":"bc"},
      {"t":"2019-06-30T12:00Z","b":3.0,"c":4.9,"r":"bc"},
      {"t":"2019-07-01T12:00Z","b":3.2,"c":4.6,"r":"bc"},
      {"t":"2019-07-02T12:00Z","b":2.8,"c":5.0,"r":"bc"},
      {"t":"2019-07-03T12:00Z","b":3.5,"c":4.3,"r":"bc"},
      {"t":"2019-07-04T12:00Z","b":2.9,"c":4.8,"r":"bc"},
      {"t":"2019-07-05T12:00Z","b":3.4,"c":4.0,"r":"bc"},
      {"t":"2019-07-06T12:00Z","b":3.0,"c":4.5,"r":"bc"},
      {"t":"2019-07-07T12:00Z","b":3.6,"c":3.9,"r":"bc"},
      {"t":"2019-07-08T12:00Z","b":3.1,"c":4.1,"r":"bc"},
      {"t":"2019-07-09T12:00Z","b":3.7,"c":3.6,"r":"bc"},
      {"t":"2019-07-10T12:00Z","b":3.0,"c":3.9,"r":"bc"},
      {"t":"2019-07-11T12:00Z","b":3.6,"c":3.3,"r":"bc"},
      {"t":"2019-07-12T12:00Z","b":3.3,"c":3.6,"r":"bc"},
      {"t":"2019-07-13T12:00Z","b":3.9,"c":3.1,"r":"bc"},
      {"t":"2019-07-14T12:00Z","b":3.2,"c":3.5,"r":"bc"},
      {"t":"2019-07-15T12:00Z","b":3.6,"c":3.3,"r":"bc"},
      {"t":"2019-07-16T12:00Z","b":3.4,"c":3.8,"r":"bc"},
      {"t":"2019-07-17T12:00Z","b":4.0,"c":3.7,"r":"bc"},
      {"t":"2019-07-18T12:00Z","b":3.3,"c":4.1,"r":"bc"},
      {"t":"2019-07-19T12:00Z","b":3.9,"c":4.3,"r":"bc"},
      {"t":"2019-07-20T12:00Z","b":3.6,"c":4.2,"r":"bc"},
      {"t":"2019-07-21T12:00Z","b":4.2,"c":4.7,"r":"bc"},
      {"t":"2019-07-22T12:00Z","b":3.7,"c":4.4,"r":"bc"},
      {"t":"2019-07-23T12:00Z","b":4.0,"c":4.9,"r":"bc"},
      {"t":"2019-07-24T12:00Z","b":4.3,"c":4.6,"r":"bc"},
      {"t":"2019-07-25T12:00Z","b":3.8,"c":4.5,"r":"bc"},
      {"t":"2019-07-26T12:00Z","b":4.3,"c":4.9,"r":"bc"},
      {"t":"2019-07-27T12:00Z","b":3.9,"c":4.3,"r":"bc"},
      {"t":"2019-07-28T12:00Z","b":4.1,"c":4.8,"r":"bc"},
      {"t":"2019-07-29T12:00Z","b":4.5,"c":4.1,"r":"bc"},
      {"t":"2019-07-30T12:00Z","a":2.2,"b":4.1,"c":4.6,"r":"abc"},
      {"t":"2019-07-31T12:00Z","a":2.6,"b":4.4,"c":4.1,"r":"abc"},
      {"t":"2019-08-01T12:00Z","a":2.0,"b":4.4,"c":3.5,"r":"abc"},
      {"t":"2019-08-02T12:00Z","a":2.7,"b":3.9,"c":4.0,"r":"abc"},
      {"t":"2019-08-03T12:00Z","a":2.3,"b":4.5,"c":3.3,"r":"abc"},
      {"t":"2019-08-04T12:00Z","a":2.6,"b":3.7,"c":3.9,"r":"abc"},
      {"t":"2019-08-05T12:00Z","a":1.9,"b":4.3,"c":3.2,"r":"abc"},
      {"t":"2019-08-06T12:00Z","a":2.5,"b":3.9,"c":3.6,"r":"abc"},
      {"t":"2019-08-07T12:00Z","a":2.1,"b":4.4,"c":3.0,"r":"abc"},
      {"t":"2019-08-08T12:00Z","a":2.4,"b":3.6,"c":3.4,"r":"abc"},
      {"t":"2019-08-09T12:00Z","a":1.8,"b":4.1,"c":2.9,"r":"abc"},
      {"t":"2019-08-10T12:00Z","a":2.4,"b":3.5,"c":3.2,"r":"abc"},
      {"t":"2019-08-11T12:00Z","a":1.9,"b":3.9,"c":2.6,"r":"abc"},
      {"t":"2019-08-12T12:00Z","a":2.3,"b":3.4,"c":3.0,"r":"abc"},
      {"t":"2019-08-13T12:00Z","a":1.7,"b":3.8,"c":2.5,"r":"abc"},
      {"t":"2019-08-14T12:00Z","a":2.3,"b":3.2,"c":2.8,"r":"abc"},
      {"t":"2019-08-15T12:00Z","a":1.8,"b":3.6,"c":2.3,"r":"abc"},
      {"t":"2019-08-16T12:00Z","a":2.2,"b":3.1,"c":2.7,"r":"abc"},
      {"t":"2019-08-17T12:00Z","a":1.7,"b":3.5,"c":2.2,"r":"abc"},
      {"t":"2019-08-18T12:00Z","a":2.3,"b":3.0,"c":2.6,"r":"abc"},
      {"t":"2019-08-19T12:00Z","a":1.8,"b":3.3,"c":2.1,"r":"abc"},
      {"t":"2019-08-20T12:00Z","a":2.1,"b":2.8,"c":2.6,"r":"abc"},
      {"t":"2019-08-21T12:00Z","a":1.6,"b":3.2,"c":2.8,"r":"abc"},
      {"t":"2019-08-22T12:00Z","a":2.2,"b":2.7,"c":3.1,"r":"abc"},
      {"t":"2019-08-23T12:00Z","a":1.7,"b":3.1,"c":2.6,"r":"abc"},
      {"t":"2019-08-24T12:00Z","a":2.0,"b":2.6,"c":2.9,"r":"abc"},
      {"t":"2019-08-25T12:00Z","a":1.5,"b":3.0,"c":2.4,"r":"abc"},
      {"t":"2019-08-26T12:00Z","a":2.0,"b":2.5,"c":2.8,"r":"abc"},
      {"t":"2019-08-27T12:00Z","a":1.6,"b":2.9,"c":2.3,"r":"abc"},
      {"t":"2019-08-28T12:00Z","a":2.1,"b":2.4,"c":2.6,"r":"abc"},
      {"t":"2019-08-29T12:00Z","a":1.5,"b":2.8,"c":2.0,"r":"abc"},
      {"t":"2019-08-30T12:00Z","a":1.9,"b":2.3,"c":2.4,"r":"abc"},
      {"t":"2019-08-31T12:00Z","a":1.5,"b":2.6,"c":1.9,"r":"abc"},
      {"t":"2019-09-01T12:00Z","a":1.4,"b":2.6,"c":1.8,"r":"abc"},
      {"t":"2019-09-02T12:00Z","a":1.9,"b":2.2,"c":2.2,"r":"abc"},
      {"t":"2019-09-03T12:00Z","a":1.3,"b":2.6,"c":1.6,"r":"abc"},
      {"t":"2019-09-04T12:00Z","a":1.8,"b":2.1,"c":2.0,"r":"abc"},
      {"t":"2019-09-05T12:00Z","a":1.2,"b":2.5,"c":1.5,"r":"abc"},
      {"t":"2019-09-06T12:00Z","a":1.8,"b":1.8,"c":2.0,"r":"abc"},
      {"t":"2019-09-07T12:00Z","a":1.3,"b":2.3,"c":1.4,"r":"abc"},
      {"t":"2019-09-08T12:00Z","a":1.7,"b":1.8,"c":1.8,"r":"abc"},
      {"t":"2019-09-09T12:00Z","a":1.1,"b":2.2,"c":1.3,"r":"abc"},
      {"t":"2019-09-10T12:00Z","a":1.6,"b":1.7,"c":1.7,"r":"abc"},
      {"t":"2019-09-11T12:00Z","a":1.2,"b":2.0,"c":1.2,"r":"abc"},
      {"t":"2019-09-12T12:00Z","a":1.6,"b":1.5,"c":1.6,"r":"abc"},
      {"t":"2019-09-13T12:00Z","a":1.0,"b":1.9,"c":1.1,"r":"abc"},
      {"t":"2019-09-14T12:00Z","a":1.5,"b":1.5,"c":1.5,"r":"abc"},
      {"t":"2019-09-15T12:00Z","a":1.1,"b":1.8,"c":1.0,"r":"abc"},
      {"t":"2019-09-16T12:00Z","a":1.4,"b":1.3,"c":1.5,"r":"abc"},
      {"t":"2019-09-17T12:00Z","a":0.9,"b":1.7,"c":0.9,"r":"abc"},
      {"t":"2019-09-18T12:00Z","a":1.4,"b":1.2,"c":1.3,"r":"abc"},
      {"t":"2019-09-19T12:00Z","a":0.9,"b":1.6,"c":0.8,"r":"abc"},
      {"t":"2019-09-20T12:00Z","a":1.3,"b":1.1,"c":1.3,"r":"abc"},
      {"t":"2019-09-21T12:00Z","a":0.8,"b":1.5,"c":0.7,"r":"abc"},
      {"t":"2019-09-22T12:00Z","a":1.3,"b":1.0,"c":1.1,"r":"abc"},
      {"t":"2019-09-23T12:00Z","a":0.8,"b":1.4,"c":0.6,"r":"abc"},
      {"t":"2019-09-24T12:00Z","a":1.2,"b":0.9,"c":1.0,"r":"abc"},
      {"t":"2019-09-25T12:00Z","a":0.7,"b":1.3,"c":0.5,"r":"abc"},
      {"t":"2019-09-26T12:00Z","a":-0.3,"b":0.8,"c":1.0,"r":"bc"},
      {"t":"2019-09-27T12:00Z","a":0.6,"b":1.2,"c":0.4,"r":"abc"},
      {"t":"2019-09-28T12:00Z","a":1.1,"b":0.7,"c":-0.2,"r":"ab"},
      {"t":"2019-09-29T12:00Z","a":0.6,"b":1.1,"c":0.7,"r":"abc"},
      {"t":"2019-09-30T12:00Z","a":-0.6,"b":0.6,"c":0.3,"r":"bc"},
      {"t":"2019-10-01T12:00Z","a":0.5,"b":0.8,"c":0.4,"r":"abc"},
      {"t":"2019-10-02T12:00Z","a":0.9,"b":0.4,"c":0.8,"r":"abc"},
      {"t":"2019-10-03T12:00Z","a":-0.5,"b":0.8,"c":-0.7,"r":"b"},
      {"t":"2019-10-04T12:00Z","a":0.6,"b":0.5,"c":0.6,"r":"abc"},
      {"t":"2019-10-05T12:00Z","a":0.8,"b":0.1,"c":0.2,"r":"abc"},
      {"t":"2019-10-06T12:00Z","a":-0.6,"b":0.6,"c":-0.3,"r":"b"},
      {"t":"2019-10-07T12:00Z","a":0.7,"b":0.4,"c":0.8,"r":"abc"},
      {"t":"2019-10-08T12:00Z","a":0.4,"b":-0.3,"c":-0.9,"r":"a"},
      {"t":"2019-10-09T12:00Z","a":0.9,"b":0.5,"c":0.3,"r":"abc"},
      {"t":"2019-10-10T12:00Z","a":-0.4,"b":0.3,"c":-0.6,"r":"b"},
      {"t":"2019-10-11T12:00Z","a":0.6,"b":0.4,"c":0.5,"r":"abc"},
      {"t":"2019-10-12T12:00Z","a":0.3,"b":-0.2,"c":-1.0,"r":"a"},
      {"t":"2019-10-13T12:00Z","a":0.7,"b":0.3,"c":0.2,"r":"abc"},
      {"t":"2019-10-14T12:00Z","a":-0.6},
      {"t":"2019-10-15T12:00Z","a":0.6,"r":"a"},
      {"t":"2019-10-16T12:00Z","a":0.4,"r":"a"},
      {"t":"2019-10-17T12:00Z","a":-0.4},
      {"t":"2019-10-28T12:00Z","c":-0.3},
      {"t":"2019-10-29T12:00Z","c":-0.9},
      {"t":"2019-10-30T12:00Z","c":-0.4},
      {"t":"2019-10-31T12:00Z","c":-1.3},
      {"t":"2019-11-01T12:00Z","a":-0.7,"b":-0.8,"c":-0.5},
      {"t":"2019-11-02T12:00Z","a":-0.4,"b":-0.5,"c":-1.0},
      {"t":"2019-11-03T12:00Z","a":-1.0,"b":-0.9,"c":-0.4},
      {"t":"2019-11-04T12:00Z","a":-0.8,"b":-1.1,"c":-1.1},
      {"t":"2019-11-05T12:00Z","a":-1.2,"b":-0.8,"c":-0.6},
      {"t":"2019-11-06T12:00Z","a":-0.9,"b":-1.2,"c":-1.3},
      {"t":"2019-11-07T12:00Z","a":-1.6,"b":-1.0,"c":-0.9},
      {"t":"2019-11-08T12:00Z","a":-1.2,"b":-1.4,"c":-1.7},
      {"t":"2019-11-09T12:00Z","a":-2.0,"b":-1.2,"c":-0.6},
      {"t":"2019-11-10T12:00Z","a":-1.5,"b":-1.6,"c":-1.4},
      {"t":"2019-11-11T12:00Z","a":-2.2,"b":-1.4,"c":-0.9},
      {"t":"2019-11-12T12:00Z","a":-1.7,"b":-1.8,"c":-1.6},
      {"t":"2019-11-13T12:00Z","a":-2.5,"b":-1.6,"c":-1.0},
      {"t":"2019-11-14T12:00Z","a":-2.0,"b":-2.0,"c":-1.5},
      {"t":"2019-11-15T12:00Z","a":-2.8,"b":-1.8},
      {"t":"2019-11-16T12:00Z","a":-2.1,"b":-2.1},
      {"t":"2019-11-17T12:00Z","a":-3.6,"b":-2.0},
      {"t":"2019-11-18T12:00Z","a":-2.6,"b":-2.4},
      {"t":"2019-11-19T12:00Z","a":-2.1,"b":-2.1},
      {"t":"2019-11-20T12:00Z","a":-2.9,"b":-2.5},
      {"t":"2019-11-21T12:00Z","a":-2.2,"b":-2.3},
      {"t":"2019-11-22T12:00Z","a":-2.6,"b":-2.2},
      {"t":"2019-11-23T12:00Z","a":-1.9,"b":-2.6},
      {"t":"2019-11-24T12:00Z","a":-2.8,"b":-2.4},
      {"t":"2019-11-25T12:00Z","a":-2.4,"b":-2.2},
      {"t":"2019-11-26T12:00Z","a":-2.0,"b":-2.6},
      {"t":"2019-11-27T12:00Z","a":-2.7,"b":-2.4},
      {"t":"2019-11-28T12:00Z","a":-2.3,"b":-2.8},
      {"t":"2019-11-29T12:00Z","a":-2.8,"b":-2.3},
      {"t":"2019-11-30T12:00Z","a":-2.2,"b":-2.7},
      {"t":"2019-12-01T12:00Z","a":-2.7,"b":-2.4},
      {"t":"2019-12-02T12:00Z","a":-2.1,"b":-2.7},
      {"t":"2019-12-03T12:00Z","a":-2.6,"b":-2.5},
      {"t":"2019-12-04T12:00Z","a":-2.4,"b":-2.8},
      {"t":"2019-12-05T12:00Z","a":-3.3,"b":-2.3},
      {"t":"2019-12-06T12:00Z","a":-2.2,"b":-2.6,"c":-1.9},
      {"t":"2019-12-07T12:00Z","a":-2.8,"b":-2.5,"c":-1.8},
      {"t":"2019-12-08T12:00Z","a":-2.1,"b":-2.6,"c":-2.3},
      {"t":"2019-12-09T12:00Z","a":-1.8,"b":-2.2,"c":-1.6},
      {"t":"2019-12-10T12:00Z","a":-2.4,"b":-2.7,"c":-2.5},
      {"t":"2019-12-11T12:00Z","a":-2.0,"b":-2.3,"c":-1.9},
      {"t":"2019-12-12T12:00Z","a":-1.7,"b":-2.6,"c":-2.1},
      {"t":"2019-12-13T12:00Z","a":-2.4,"b":-2.4,"c":-1.5},
      {"t":"2019-12-14T12:00Z","a":-1.9,"b":-2.1,"c":-2.4},
      {"t":"2019-12-15T12:00Z","a":-2.2,"b":-2.5,"c":-1.8},
      {"t":"2019-12-16T12:00Z","a":-1.8,"b":-2.4,"c":-1.6},
      {"t":"2019-12-17T12:00Z","a":-2.5,"b":-2.2,"c":-2.2},
      {"t":"2019-12-18T12:00Z","a":-1.6,"b":-2.0,"c":-1.9},
      {"t":"2019-12-19T12:00Z","a":-2.1,"b":-2.3,"c":-1.7},
      {"t":"2019-12-20T12:00Z","a":-1.8,"b":-1.9,"c":-1.4},
      {"t":"2019-12-21T12:00Z","a":-2.3,"b":-1.8,"c":-1.9},
      {"t":"2019-12-22T12:00Z","a":-1.9,"b":-1.6,"c":-1.2},
      {"t":"2019-12-23T12:00Z","a":-2.1,"b":-1.9,"c":-1.4},
      {"t":"2019-12-24T12:00Z","a":-1.5,"b":-1.4,"c":-0.9},
      {"t":"2019-12-25T12:00Z","a":-2.0,"b":-1.6,"c":-1.2},
      {"t":"2019-12-26T12:00Z","a":-2.2,"b":-1.3,"c":-0.8},
      {"t":"2019-12-27T12:00Z","a":-1.9,"b":-1.7,"c":-1.6},
      {"t":"2019-12-28T12:00Z","a":-2.1,"b":-2.1,"c":-2.4},
      {"t":"2019-12-29T12:00Z","a":-2.2,"b":-2.2,"c":-2.2},
      {"t":"2019-12-30T12:00Z","a":-1.7,"b":-2.4,"c":-2.6},
      {"t":"2019-12-31T12:00Z","a":-2.3,"b":-2.2,"c":-2.4},
      {"t":"2020-01-01T12:00Z","a":-2.1,"b":-2.4,"c":-2.8},
      {"t":"2020-01-02T12:00Z","a":-2.6,"b":-2.2,"c":-2.3},
      {"t":"2020-01-03T12:00Z","a":-2.0,"b":-2.6,"c":-2.7},
      {"t":"2020-01-04T12:00Z","a":-2.4,"b":-2.4,"c":-2.4},
      {"t":"2020-01-05T12:00Z","a":-2.7,"b":-2.1,"c":-2.9},
      {"t":"2020-01-06T12:00Z","a":-2.1,"b":-2.7,"c":-2.6},
      {"t":"2020-01-07T12:00Z","a":-2.6,"b":-2.3,"c":-2.5},
      {"t":"2020-01-08T12:00Z","a":-2.3,"b":-2.4,"c":-2.7},
      {"t":"2020-01-09T12:00Z","a":-2.9,"b":-2.3,"c":-3.0},
      {"t":"2020-01-10T12:00Z","a":-2.2,"b":-2.6,"c":-2.7},
      {"t":"2020-01-11T12:00Z","a":-2.4,"b":-2.5,"c":-2.6},
      {"t":"2020-01-12T12:00Z","a":-2.6,"b":-2.2,"c":-3.2},
      {"t":"2020-01-13T12:00Z","a":-2.1,"b":-2.6,"c":-2.6},
      {"t":"2020-01-14T12:00Z","a":-2.9,"b":-2.4,"c":-2.9},
      {"t":"2020-01-15T12:00Z","a":-2.3,"b":-2.5,"c":-2.3},
      {"t":"2020-01-16T12:00Z","a":-2.7,"b":-2.3,"c":-2.7},
      {"t":"2020-01-17T12:00Z","a":-2.4,"b":-2.5,"c":-2.6},
      {"t":"2020-01-18T12:00Z","a":-2.6,"b":-2.4,"c":-2.9},
      {"t":"2020-01-19T12:00Z","a":-2.9,"b":-2.3,"c":-2.5},
      {"t":"2020-01-20T12:00Z","a":-2.3,"b":-2.6,"c":-2.4},
      {"t":"2020-01-21T12:00Z","a":-2.8,"b":-2.4,"c":-2.9},
      {"t":"2020-01-22T12:00Z","a":-3.6,"b":-2.5,"c":-2.6},
      {"t":"2020-01-23T12:00Z","a":-3.9,"b":-2.5,"c":-2.5},
      {"t":"2020-01-24T12:00Z","a":-2.5,"b":-2.3,"c":-2.4},
      {"t":"2020-01-25T12:00Z","a":-2.0,"b":-2.3,"c":-2.3},
      {"t":"2020-01-26T12:00Z","b":-2.2,"c":-2.4},
      {"t":"2020-01-27T12:00Z","b":-2.3,"c":-2.3},
      {"t":"2020-01-28T12:00Z","a":-1.9,"b":-2.1,"c":-2.3},
      {"t":"2020-01-29T12:00Z","a":-1.7,"b":-2.1,"c":-2.2},
      {"t":"2020-01-30T12:00Z","a":-2.0,"b":-2.0,"c":-2.1},
      {"t":"2020-01-31T12:00Z","a":-1.6,"b":-1.7,"c":-2.1},
      {"t":"2020-02-01T12:00Z","a":-1.8,"b":-1.9,"c":-1.9},
      {"t":"2020-02-02T12:00Z","a":-1.6,"b":-1.7,"c":-2.0},
      {"t":"2020-02-03T12:00Z","a":-1.9,"b":-1.8,"c":-1.8},
      {"t":"2020-02-04T12:00Z","a":-1.6,"b":-1.5,"c":-1.8},
      {"t":"2020-02-05T12:00Z","a":-1.7,"b":-1.6,"c":-1.7},
      {"t":"2020-02-06T12:00Z","a":-1.8,"b":-1.4,"c":-1.6},
      {"t":"2020-02-07T12:00Z","a":-1.5,"b":-1.3,"c":-1.5},
      {"t":"2020-02-08T12:00Z","a":-1.6,"b":-1.3,"c":-1.4},
      {"t":"2020-02-09T12:00Z","a":-1.9,"b":-1.2,"c":-1.3},
      {"t":"2020-02-10T12:00Z","a":-1.6,"b":-1.1,"c":-1.4},
      {"t":"2020-02-11T12:00Z","a":-1.7,"b":-1.2,"c":-1.3},
      {"t":"2020-02-12T12:00Z","a":-1.4,"b":-0.9,"c":-1.2},
      {"t":"2020-02-13T12:00Z","a":-1.5,"b":-1.1,"c":-1.2},
      {"t":"2020-02-14T12:00Z","a":-1.2,"b":-1.3,"c":-1.1},
      {"t":"2020-02-15T12:00Z","a":-1.7,"b":-1.2,"c":-1.2},
      {"t":"2020-02-16T12:00Z","a":-1.5,"b":-1.4,"c":-1.1},
      {"t":"2020-02-17T12:00Z","a":-1.4,"b":-1.3,"c":-1.0},
      {"t":"2020-02-18T12:00Z","a":-1.3,"b":-1.4,"c":-1.0},
      {"t":"2020-02-19T12:00Z","a":-1.7,"b":-1.2,"c":-0.9},
      {"t":"2020-02-20T12:00Z","a":-1.5,"b":-1.2,"c":-1.0},
      {"t":"2020-02-21T12:00Z","a":-1.4,"b":-1.0,"c":-0.9},
      {"t":"2020-02-22T12:00Z","a":-1.3,"b":-1.1,"c":-0.8},
      {"t":"2020-02-23T12:00Z","a":-1.2,"b":-1.0,"c":-0.8},
      {"t":"2020-02-24T12:00Z","a":-1.1,"b":-0.9,"c":-0.7},
      {"t":"2020-02-25T12:00Z","a":-1.0,"b":-0.9,"c":-0.7},
      {"t":"2020-02-26T12:00Z","a":-0.9,"b":-0.8,"c":-0.6},
      {"t":"2020-02-27T12:00Z","a":-1.0,"b":-0.8,"c":-0.6},
      {"t":"2020-02-28T12:00Z","a":-0.7,"b":-0.9,"c":-0.7},
      {"t":"2020-02-29T12:00Z","a":-0.5,"b":-0.7,"c":-0.5}
    ]
  },
  "data": {"name": "obs"},
  "vconcat": [
    {
      "width": 459,
      "height": 74,
      "encoding": {
        "x": {
          "field": "t", "type": "temporal",
          "scale": {"type": "utc", "domain": [{"year": 2019, "month": 3, "date": 1, "utc": true}, {"year": 2020, "month": 3, "date": 1, "utc": true}]},
          "axis": {"title": null, "labels": false, "tickSize": -4, "grid": true,
            "values": [{"year": 2019, "month": 3, "date": 1, "utc": true}, {"year": 2019, "month": 5, "date": 1, "utc": true}, {"year": 2019, "month": 7, "date": 1, "utc": true}, {"year": 2019, "month": 8, "date": 31, "utc": true}, {"year": 2019, "month": 10, "date": 31, "utc": true}, {"year": 2019, "month": 12, "date": 31, "utc": true}, {"year": 2020, "month": 3, "date": 1, "utc": true}]}
        }
      },
      "layer": [
        {
          "transform": [{"filter": "isValid(datum.a) || indexof(datum.gap || '', 'a') >= 0"}],
          "mark": {"type": "line", "strokeWidth": 0.7, "invalid": "break-paths-filter-domains"},
          "encoding": {
            "y": {"field": "a", "type": "quantitative", "scale": {"domain": [-9, 9], "nice": false},
              "axis": {"title": "[°C]", "values": [-5, 0, 5], "tickCount": 5, "ticks": false, "grid": true, "labelOverlap": false, "labelExpr": "'' + datum.value"}},
            "color": {"datum": "dl933 | diff(air,Water)", "type": "nominal", "scale": {"range": ["#c3c9cf"]}}
          }
        },
        {
          "mark": {"type": "circle", "size": 6, "opacity": 1},
          "encoding": {
            "y": {"field": "a", "type": "quantitative"},
            "color": {"condition": {"test": "indexof(datum.r || '', 'a') >= 0", "value": "#ee411a"}, "value": "#6b9bc7"}
          }
        },
        {
          "data": {"name": "boxes"},
          "mark": {"type": "rule", "strokeWidth": 1.3},
          "encoding": {"x": {"field": "x0", "type": "temporal"}, "y": {"datum": 6}, "y2": {"datum": -15.7},
            "color": {"condition": {"test": "datum.id == 'g'", "value": "#5cc985"}, "value": "#f8c84e"}}
        },
        {
          "data": {"name": "boxes"},
          "mark": {"type": "rule", "strokeWidth": 1.3},
          "encoding": {"x": {"field": "x1", "type": "temporal"}, "y": {"datum": 6}, "y2": {"datum": -15.7},
            "color": {"condition": {"test": "datum.id == 'g'", "value": "#5cc985"}, "value": "#f8c84e"}}
        },
        {
          "data": {"name": "boxes"},
          "mark": {"type": "rule", "strokeWidth": 1.3},
          "encoding": {"x": {"field": "x0", "type": "temporal"}, "x2": {"field": "x1"}, "y": {"datum": 6},
            "color": {"condition": {"test": "datum.id == 'g'", "value": "#5cc985"}, "value": "#f8c84e"}}
        }
      ]
    },
    {
      "width": 459,
      "height": 74,
      "encoding": {
        "x": {
          "field": "t", "type": "temporal",
          "scale": {"type": "utc", "domain": [{"year": 2019, "month": 3, "date": 1, "utc": true}, {"year": 2020, "month": 3, "date": 1, "utc": true}]},
          "axis": {"title": null, "labels": false, "tickSize": -4, "grid": true,
            "values": [{"year": 2019, "month": 3, "date": 1, "utc": true}, {"year": 2019, "month": 5, "date": 1, "utc": true}, {"year": 2019, "month": 7, "date": 1, "utc": true}, {"year": 2019, "month": 8, "date": 31, "utc": true}, {"year": 2019, "month": 10, "date": 31, "utc": true}, {"year": 2019, "month": 12, "date": 31, "utc": true}, {"year": 2020, "month": 3, "date": 1, "utc": true}]}
        }
      },
      "layer": [
        {
          "transform": [{"filter": "isValid(datum.b) || indexof(datum.gap || '', 'b') >= 0"}],
          "mark": {"type": "line", "strokeWidth": 0.7, "invalid": "break-paths-filter-domains"},
          "encoding": {
            "y": {"field": "b", "type": "quantitative", "scale": {"domain": [-9, 9], "nice": false},
              "axis": {"title": "[°C]", "values": [-5, 0, 5], "tickCount": 5, "ticks": false, "grid": true, "labelOverlap": false, "labelExpr": "'' + datum.value"}},
            "color": {"datum": "dl935 | diff(air,Water)", "type": "nominal", "scale": {"range": ["#c3c9cf"]}}
          }
        },
        {
          "mark": {"type": "circle", "size": 6, "opacity": 1},
          "encoding": {
            "y": {"field": "b", "type": "quantitative"},
            "color": {"condition": {"test": "indexof(datum.r || '', 'b') >= 0", "value": "#ee411a"}, "value": "#6b9bc7"}
          }
        },
        {
          "data": {"name": "boxes"},
          "mark": {"type": "rule", "strokeWidth": 1.3},
          "encoding": {"x": {"field": "x0", "type": "temporal"}, "y": {"datum": 9}, "y2": {"datum": -15.7},
            "color": {"condition": {"test": "datum.id == 'g'", "value": "#5cc985"}, "value": "#f8c84e"}}
        },
        {
          "data": {"name": "boxes"},
          "mark": {"type": "rule", "strokeWidth": 1.3},
          "encoding": {"x": {"field": "x1", "type": "temporal"}, "y": {"datum": 9}, "y2": {"datum": -15.7},
            "color": {"condition": {"test": "datum.id == 'g'", "value": "#5cc985"}, "value": "#f8c84e"}}
        }
      ]
    },
    {
      "width": 459,
      "height": 74,
      "encoding": {
        "x": {
          "field": "t", "type": "temporal",
          "scale": {"type": "utc", "domain": [{"year": 2019, "month": 3, "date": 1, "utc": true}, {"year": 2020, "month": 3, "date": 1, "utc": true}]},
          "axis": {"title": null, "format": "%d/%m/%Y", "tickSize": -4, "grid": true, "labelPadding": 8, "labelFlush": false, "labelOverlap": false,
            "values": [{"year": 2019, "month": 3, "date": 1, "utc": true}, {"year": 2019, "month": 5, "date": 1, "utc": true}, {"year": 2019, "month": 7, "date": 1, "utc": true}, {"year": 2019, "month": 8, "date": 31, "utc": true}, {"year": 2019, "month": 10, "date": 31, "utc": true}, {"year": 2019, "month": 12, "date": 31, "utc": true}, {"year": 2020, "month": 3, "date": 1, "utc": true}]}
        }
      },
      "layer": [
        {
          "transform": [{"filter": "isValid(datum.c) || indexof(datum.gap || '', 'c') >= 0"}],
          "mark": {"type": "line", "strokeWidth": 0.7, "invalid": "break-paths-filter-domains"},
          "encoding": {
            "y": {"field": "c", "type": "quantitative", "scale": {"domain": [-9, 9], "nice": false},
              "axis": {"title": "[°C]", "values": [-5, 0, 5], "tickCount": 5, "ticks": false, "grid": true, "labelOverlap": false, "labelExpr": "'' + datum.value"}},
            "color": {"datum": "dl931 | diff(air,Water)", "type": "nominal", "scale": {"range": ["#c3c9cf"]}}
          }
        },
        {
          "mark": {"type": "circle", "size": 6, "opacity": 1},
          "encoding": {
            "y": {"field": "c", "type": "quantitative"},
            "color": {"condition": {"test": "indexof(datum.r || '', 'c') >= 0", "value": "#ee411a"}, "value": "#6b9bc7"}
          }
        },
        {
          "data": {"name": "boxes"},
          "mark": {"type": "rule", "strokeWidth": 1.3},
          "encoding": {"x": {"field": "x0", "type": "temporal"}, "y": {"datum": 9}, "y2": {"datum": -9},
            "color": {"condition": {"test": "datum.id == 'g'", "value": "#5cc985"}, "value": "#f8c84e"}}
        },
        {
          "data": {"name": "boxes"},
          "mark": {"type": "rule", "strokeWidth": 1.3},
          "encoding": {"x": {"field": "x1", "type": "temporal"}, "y": {"datum": 9}, "y2": {"datum": -9},
            "color": {"condition": {"test": "datum.id == 'g'", "value": "#5cc985"}, "value": "#f8c84e"}}
        }
      ]
    }
  ],
  "resolve": {"scale": {"color": "independent"}, "legend": {"color": "independent"}},
  "config": {
    "view": {"stroke": null},
    "font": "Liberation Sans",
    "axis": {
      "domainColor": "#8c8c8c", "domainWidth": 0.8, "tickColor": "#8c8c8c", "tickWidth": 0.8,
      "gridColor": "#ebebeb", "gridWidth": 0.8,
      "labelFont": "Liberation Sans", "labelFontSize": 7, "labelColor": "#404040",
      "titleFont": "Liberation Sans", "titleFontSize": 7, "titleFontWeight": "normal", "titleColor": "#404040", "titlePadding": 2
    },
    "axisY": {"labelPadding": 3},
    "legend": {
      "orient": "top-right", "offset": 4, "padding": 2, "title": null,
      "symbolType": "M-2,0H2M-0.28,0a0.28,0.28 0 1,0 0.56,0a0.28,0.28 0 1,0 -0.56,0",
      "symbolSize": 100, "symbolStrokeWidth": 0.8,
      "symbolFillColor": "#6b9bc7", "symbolStrokeColor": "#c3c9cf",
      "labelFont": "Liberation Sans", "labelFontSize": 5.6, "labelColor": "#404040", "labelOffset": 1
    }
  }
}
